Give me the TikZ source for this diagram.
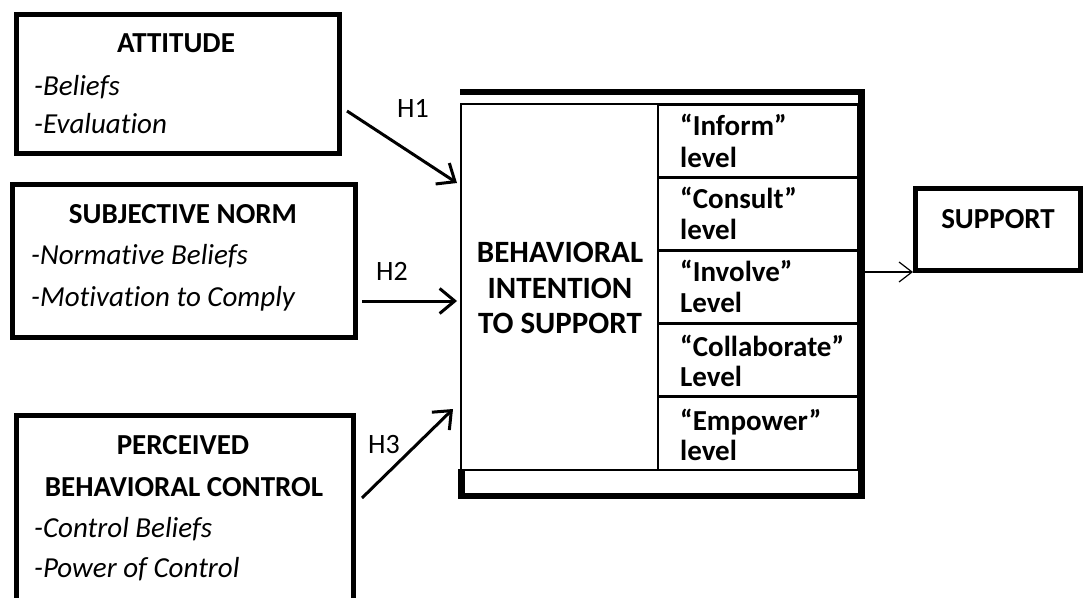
\documentclass[tikz,border=0pt]{standalone}
\usepackage{fontspec}
\setmainfont{Carlito}[Ligatures={NoCommon}]
\usetikzlibrary{arrows.meta}

\newcommand{\diagsize}{\fontsize{29}{34}\selectfont}
\newcommand{\bigsize}{\fontsize{31}{36}\selectfont}

\tikzset{
  box/.style={draw, line width=5pt, inner sep=0pt, minimum width=#1},
  box/.default=10pt,
  cell/.style={draw, line width=2.5pt, inner sep=0pt, minimum width=200pt, minimum height=73pt},
  title/.style={anchor=base, inner sep=0pt, font=\diagsize\bfseries},
  bititle/.style={anchor=base, inner sep=0pt, font=\bigsize\bfseries},
  item/.style={anchor=base west, inner sep=0pt, font=\diagsize\itshape},
  level/.style={anchor=base west, inner sep=0pt, font=\diagsize\bfseries},
  hlabel/.style={anchor=base, inner sep=0pt, font=\fontsize{28}{34}\selectfont},
  link/.style={line width=3pt, -{Straight Barb[length=15pt,width=25pt]}},
  thinlink/.style={line width=1.2pt, -{Straight Barb[length=13pt,width=20pt]}},
}

\begin{document}
\begin{tikzpicture}[x=1pt, y=-1pt]
\clip (0,0) rectangle (1084,597);
\fill[white] (0,0) rectangle (1084,597);

% --- determinant boxes ---
\node[box=323pt, minimum height=139pt] (att) at (177.5,83.5) {};
\node[title] (attT) at (176,52) {ATTITUDE};
\node[item] (att1) at (34,95) {-Beliefs};
\node[item] (att2) at (34,133) {-Evaluation};

\node[box=343pt, minimum height=153pt] (sn) at (184,261) {};
\node[title] (snT) at (183,223) {SUBJECTIVE NORM};
\node[item] (sn1) at (31,264) {-Normative Beliefs};
\node[item] (sn2) at (31,306) {-Motivation to Comply};

\node[box=336.5pt, minimum height=220pt] (pbc) at (184.75,525.5) {};
\node[title] (pbcT1) at (183,454) {PERCEIVED};
\node[title] (pbcT2) at (184,496) {BEHAVIORAL CONTROL};
\node[item] (pbc1) at (34,537) {-Control Beliefs};
\node[item] (pbc2) at (34,577) {-Power of Control};

% --- behavioral intention frame ---
\fill (460,89) rectangle (865,95);
\fill (858,89) rectangle (865,499);
\fill (458,469) rectangle (465,499);
\fill (458,493) rectangle (865,499);
\draw[line width=2.5pt] (461,470) -- (461,104) -- (858,104);
\draw[line width=2.5pt] (461,470) -- (858,470);
\node[draw=none, minimum width=197pt, minimum height=366pt, inner sep=0pt] (bi) at (559.5,287) {};
\draw[line width=2.5pt] (bi.north east) -- (bi.south east);

\node[bititle] (bi1) at (560,262) {BEHAVIORAL};
\node[bititle] (bi2) at (560,298) {INTENTION};
\node[bititle] (bi3) at (560,333) {TO SUPPORT};

% --- participation levels ---
\node[cell] (c1) at (758,141) {};
\node[cell] (c2) at (758,214) {};
\node[cell] (c3) at (758,286.5) {};
\node[cell] (c4) at (758,360) {};
\node[cell] (c5) at (758,433.5) {};

\node[level] (l1a) at (680,135) {“Inform”};
\node[level] (l1b) at (680,167) {level};
\node[level] (l2a) at (680,208) {“Consult”};
\node[level] (l2b) at (680,239) {level};
\node[level] (l3a) at (680,281) {“Involve”};
\node[level] (l3b) at (680,312) {Level};
\node[level] (l4a) at (680,356) {“Collaborate”};
\node[level] (l4b) at (680,386) {Level};
\node[level] (l5a) at (680,430) {“Empower”};
\node[level] (l5b) at (680,460) {level};

% --- outcome ---
\node[box=165pt, minimum height=82pt] (sup) at (998,229.5) {};
\node[title] (supT) at (998,228) {SUPPORT};

% --- hypothesised paths ---
\coordinate (h1s) at (347,111);
\coordinate (h1e) at (457,183);
\coordinate (h2s) at (362,301);
\coordinate (h2e) at (457,301);
\coordinate (h3s) at (362,498);
\coordinate (h3e) at (453,409);
\coordinate (bis) at (865,272);

\draw[link] (h1s) -- (h1e);
\draw[link] (h2s) -- (h2e);
\draw[link] (h3s) -- (h3e);
\draw[thinlink] (bis) -- (sup.west |- bis);

\node[hlabel] (H1) at (413,117) {H1};
\node[hlabel] (H2) at (392,280) {H2};
\node[hlabel] (H3) at (384,453) {H3};
\end{tikzpicture}
\end{document}
